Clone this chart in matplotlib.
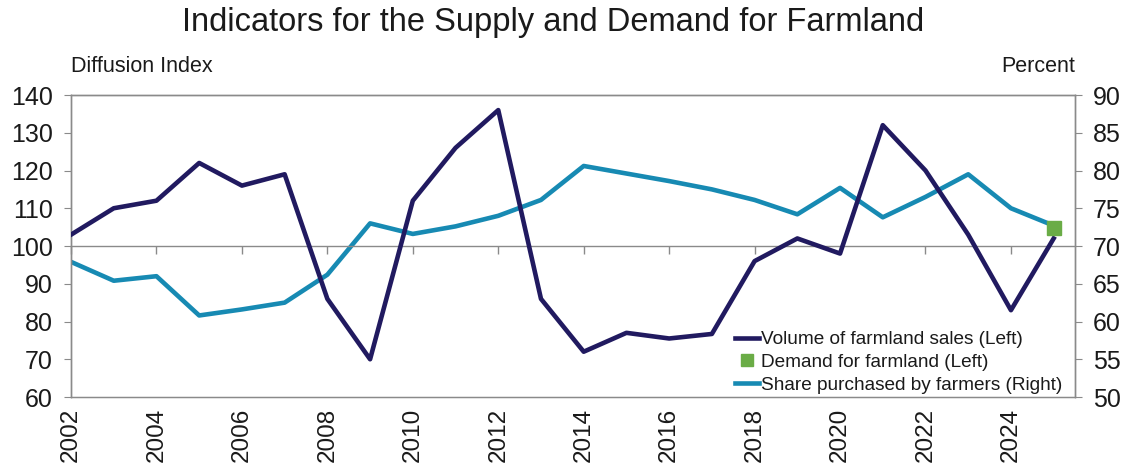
import matplotlib
matplotlib.use("Agg")
import matplotlib.pyplot as plt
import numpy as np

plt.rcParams["font.family"] = ["Liberation Sans", "DejaVu Sans"]

years = list(range(2002, 2026))
volume_sales = [103, 110, 112, 122, 116, 119, 86, 70, 112, 126, 136, 86,
                72, 77, 75.5, 76.7, 96, 102, 98, 132, 120, 103, 83, 102]
share_farmers = [67.9, 65.4, 66.0, 60.8, 61.6, 62.5, 66.2, 73.0, 71.6, 72.6,
                 74.0, 76.1, 80.6, 79.6, 78.6, 77.5, 76.1, 74.2, 77.7, 73.8,
                 76.5, 79.5, 75.0, 72.7]
demand_years = [2025]
demand_values = [104.7]
tick_years = list(range(2002, 2025, 2))

NAVY = "#211a60"
TEAL = "#178ab3"
GREEN = "#6aac46"
GRAY = "#8a8a8a"
TXT = "#1a1a1a"

fig = plt.figure(figsize=(11.29, 4.68), dpi=100)
ax = fig.add_axes([0.0629, 0.1517, 0.8893, 0.6453])
ax2 = ax.twinx()

l1, = ax.plot(years, volume_sales, color=NAVY, lw=3.3, zorder=3,
              label="Volume of farmland sales (Left)")
l3, = ax2.plot(years, share_farmers, color=TEAL, lw=3.3, zorder=2,
               label="Share purchased by farmers (Right)")
# volume + demand sit on top of the teal line
ax2.set_zorder(1)
ax.set_zorder(2)
ax.patch.set_visible(False)
l2, = ax.plot(demand_years, demand_values, ls="none", marker="s", ms=10,
              color=GREEN, zorder=4, label="Demand for farmland (Left)")

ax.set_xlim(2002, 2025.5)
ax.set_ylim(60, 140)
ax.set_yticks(range(60, 141, 10))
ax2.set_ylim(50, 90)
ax2.set_yticks(range(50, 91, 5))

# x axis drawn at the 100 line, labels at the bottom
ax.spines["bottom"].set_position(("data", 100))
ax.set_xticks(tick_years)
ax.tick_params(axis="x", direction="out", length=6, width=1, color=GRAY,
               labelbottom=False)
sec = ax.secondary_xaxis(0)
sec.set_xticks(tick_years)
sec.tick_params(axis="x", length=0, pad=8, labelsize=17.5, labelcolor=TXT,
                labelrotation=90)
sec.spines["bottom"].set_color(GRAY)

for a in (ax, ax2):
    for s in a.spines.values():
        s.set_color(GRAY)
        s.set_linewidth(1)
ax.tick_params(axis="y", direction="out", length=5, color=GRAY, pad=8,
               labelsize=18, labelcolor=TXT)
ax2.tick_params(axis="y", direction="out", length=5, color=GRAY, pad=8,
                labelsize=18, labelcolor=TXT)

fig.text(0.49, 0.951, "Indicators for the Supply and Demand for Farmland",
         ha="center", va="center", fontsize=23.5, color=TXT)
ax.text(0.0, 1.06, "Diffusion Index", transform=ax.transAxes, ha="left",
        va="bottom", fontsize=15.5, color=TXT)
ax.text(1.0, 1.06, "Percent", transform=ax.transAxes, ha="right",
        va="bottom", fontsize=15.5, color=TXT)

leg = ax.legend(handles=[l1, l2, l3], loc="lower right",
                bbox_to_anchor=(0.999, -0.027), frameon=False, fontsize=13.7,
                handlelength=1.3, handletextpad=0.1, labelspacing=0.28,
                borderaxespad=0.2, markerscale=0.8)
for t in leg.get_texts():
    t.set_color(TXT)

fig.savefig("out.png", dpi=100)
